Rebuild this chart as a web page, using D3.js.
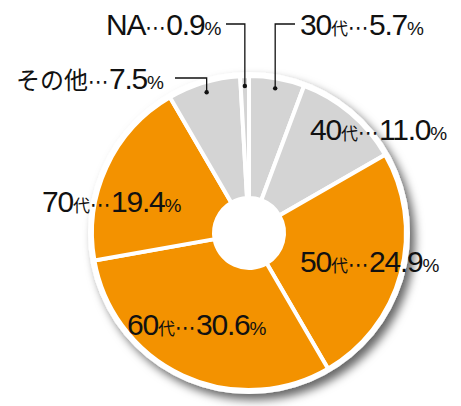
<!DOCTYPE html>
<html>
<head>
<meta charset="utf-8">
<script src="https://cdn.jsdelivr.net/npm/d3@7"></script>
<style>
  body { margin: 0; background: #fff; }
  svg { display: block; }
</style>
</head>
<body>
<div id="chart"></div>
<script>
// age groups, clockwise from 12 o'clock
const categories = ['30代', '40代', '50代', '60代', '70代', 'その他', 'NA'];
const values = [5.7, 11.0, 24.9, 30.6, 19.4, 7.5, 0.9];
const highlight = [false, false, true, true, true, false, false];

// where each label sits (x, baseline y); outside ones get a leader line
const labelLayout = [
    { x: 300, y: 35, leader: { y: 24, x: 295 } },
    { x: 310, y: 140 },
    { x: 300, y: 272 },
    { x: 127, y: 335 },
    { x: 42, y: 212 },
    { x: 16, y: 89, leader: { y: 78, x: 175 } },
    { x: 106, y: 35, leader: { y: 24, x: 226 } }
];

const width = 461, height = 406;
const cx = 249, cy = 233;
const outerR = 157, innerR = 35;

const svg = d3.select('#chart').append('svg')
    .attr('width', width)
    .attr('height', height);

const defs = svg.append('defs');
const shadow = defs.append('filter')
    .attr('id', 'shadow')
    .attr('x', '-20%').attr('y', '-20%')
    .attr('width', '140%').attr('height', '140%');
shadow.append('feDropShadow')
    .attr('dx', 5).attr('dy', 6)
    .attr('stdDeviation', 5)
    .attr('flood-color', '#000')
    .attr('flood-opacity', 0.6);

const g = svg.append('g').attr('transform', `translate(${cx},${cy})`);

// white disc behind slices (outer ring + shadow)
g.append('circle')
    .attr('r', outerR + 4)
    .attr('fill', '#fff')
    .attr('filter', 'url(#shadow)');

const pie = d3.pie().sort(null).value(d => d)(values);
const arc = d3.arc().innerRadius(innerR).outerRadius(outerR);
const dotArc = d3.arc().innerRadius(147).outerRadius(147);

g.selectAll('.slice')
    .data(pie)
    .enter()
    .append('path')
    .attr('class', 'slice')
    .attr('d', arc)
    .attr('fill', (d, i) => highlight[i] ? '#f39200' : '#d4d4d4')
    .attr('stroke', '#fff')
    .attr('stroke-width', 4)
    .attr('stroke-linejoin', 'round');

// centre hole
g.append('circle').attr('r', innerR).attr('fill', '#fff');

const latin = '"Liberation Sans", Arial, Helvetica, sans-serif';
const cjk = '"Noto Sans CJK JP", sans-serif';

// leader lines and dots
pie.forEach((d, i) => {
    const lay = labelLayout[i];
    if (!lay.leader) return;
    const [px, py] = dotArc.centroid(d);
    const dx = cx + px, dy = cy + py;
    svg.append('polyline')
        .attr('points', `${dx},${dy} ${dx},${lay.leader.y} ${lay.leader.x},${lay.leader.y}`)
        .attr('fill', 'none')
        .attr('stroke', '#111')
        .attr('stroke-width', 1.3);
    svg.append('circle')
        .attr('cx', dx).attr('cy', dy)
        .attr('r', 2.2)
        .attr('fill', '#111');
});

// labels: name + "⋯" + value + "%"
categories.forEach((name, i) => {
    const lay = labelLayout[i];
    const t = svg.append('text')
        .attr('x', lay.x)
        .attr('y', lay.y)
        .attr('fill', '#111');

    const m = name.match(/^(\d+)(代)$/);
    if (m) {
        t.append('tspan').attr('font-family', latin).attr('font-size', 30)
            .attr('letter-spacing', -1.2).text(m[1]);
        t.append('tspan').attr('font-family', cjk).attr('font-size', 17).text(m[2]);
    } else if (name === 'NA') {
        t.append('tspan').attr('font-family', latin).attr('font-size', 30)
            .attr('letter-spacing', -1.2).text(name);
    } else {
        t.append('tspan').attr('font-family', cjk).attr('font-size', 24).text(name);
    }
    t.append('tspan').attr('font-family', '"DejaVu Sans", sans-serif').attr('font-size', 21)
        .text('⋯');
    t.append('tspan').attr('font-family', latin).attr('font-size', 30)
        .attr('letter-spacing', -1.2).text(values[i].toFixed(1));
    t.append('tspan').attr('font-family', latin).attr('font-size', 19).text('%');
});
</script>
</body>
</html>
